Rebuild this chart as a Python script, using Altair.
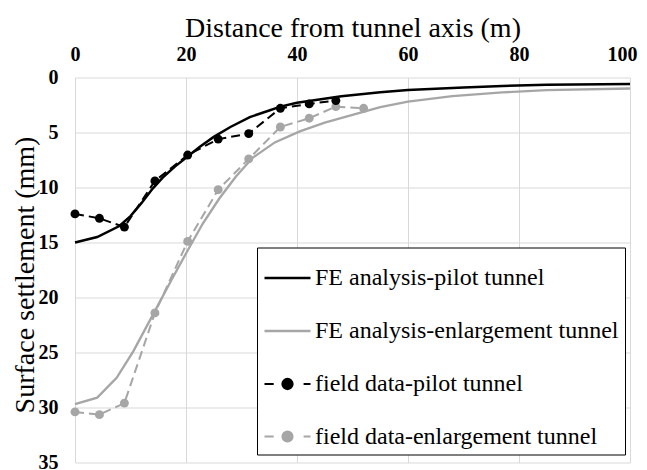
import altair as alt
import pandas as pd

# ---- data ----
fe_pilot_x = [0, 4, 8, 10, 12, 14, 16, 18, 20, 22.5, 25, 28, 31.5, 35, 37, 40, 44, 48, 55, 60, 70, 77, 85, 100]
fe_pilot_y = [15.0, 14.5, 13.5, 12.6, 11.4, 10.1, 9.0, 8.1, 7.3, 6.3, 5.4, 4.5, 3.6, 3.0, 2.65, 2.3, 2.0, 1.7, 1.35, 1.14, 0.9, 0.77, 0.65, 0.6]

fe_enl_x = [0, 4, 7.5, 10.5, 14, 17.5, 20, 23, 26, 29, 32, 36, 40.5, 45, 50, 55, 60, 68, 77, 85, 100]
fe_enl_y = [29.7, 29.1, 27.3, 24.9, 21.6, 18.3, 16.0, 13.3, 11.0, 9.0, 7.3, 5.9, 4.9, 4.1, 3.4, 2.7, 2.2, 1.7, 1.35, 1.15, 1.0]

fd_pilot_x = [0, 4.4, 8.9, 14.4, 20.3, 25.8, 31.3, 37.0, 42.2, 47.0]
fd_pilot_y = [12.4, 12.8, 13.6, 9.4, 7.05, 5.6, 5.1, 2.8, 2.4, 2.1]

fd_enl_x = [0, 4.4, 8.9, 14.4, 20.3, 25.8, 31.3, 37.0, 42.2, 47.0, 52.0]
fd_enl_y = [30.4, 30.65, 29.6, 21.4, 14.9, 10.2, 7.4, 4.5, 3.7, 2.65, 2.8]

series_names = [
    "FE analysis-pilot tunnel",
    "FE analysis-enlargement tunnel",
    "field data-pilot tunnel",
    "field data-enlargement tunnel",
]
series_colors = ["#000000", "#a6a6a6", "#000000", "#a6a6a6"]
x_ticks = [0, 20, 40, 60, 80, 100]
y_ticks = [0, 5, 10, 15, 20, 25, 30, 35]

rows = []
for name, xs, ys in zip(series_names,
                        [fe_pilot_x, fe_enl_x, fd_pilot_x, fd_enl_x],
                        [fe_pilot_y, fe_enl_y, fd_pilot_y, fd_enl_y]):
    for i, (x, y) in enumerate(zip(xs, ys)):
        rows.append({"series": name, "x": x, "y": y, "order": i})
df = pd.DataFrame(rows)

FONT = "'Liberation Serif', 'Times New Roman', 'DejaVu Serif', serif"

x_enc = alt.X("x:Q",
              scale=alt.Scale(domain=[0, 100], nice=False),
              axis=alt.Axis(orient="top", values=x_ticks, title="Distance from tunnel axis (m)",
                            grid=True, gridColor="#d9d9d9", gridWidth=1, domain=False,
                            ticks=False, tickSize=0, labelPadding=13, labelFlush=False,
                            labelOffset={"condition": {"test": "datum.value == 100", "value": -8}, "value": 0},
                            labelFont=FONT, labelFontSize=20, labelFontWeight="bold", labelColor="#000000",
                            titleFont=FONT, titleFontSize=28, titleFontWeight="normal", titleColor="#000000",
                            titleBaseline="alphabetic", titleY=-41.5))
y_enc = alt.Y("y:Q",
              scale=alt.Scale(domain=[0, 35], reverse=True, nice=False),
              axis=alt.Axis(values=y_ticks, title="Surface settlement (mm)",
                            grid=True, gridColor="#d9d9d9", gridWidth=1, domain=False,
                            ticks=False, tickSize=0, labelPadding=17, labelFlush=False,
                            labelFont=FONT, labelFontSize=20, labelFontWeight="bold", labelColor="#000000",
                            titleFont=FONT, titleFontSize=28, titleFontWeight="normal", titleColor="#000000",
                            titleBaseline="alphabetic", titleX=-42, titleY=197))

dot_path = "M-1,0H-0.6M0.7,0H1M0.22,0A0.22,0.22,0,1,1,-0.22,0A0.22,0.22,0,1,1,0.22,0Z"
shape_expr = ("indexof(['field data-pilot tunnel','field data-enlargement tunnel'], datum.value) >= 0 ? '"
              + dot_path + "' : 'M-1,0H1'")
fill_expr = ("datum.value == 'field data-pilot tunnel' ? '#000000' : "
             "datum.value == 'field data-enlargement tunnel' ? '#a6a6a6' : 'transparent'")

color_enc = alt.Color("series:N",
                      scale=alt.Scale(domain=series_names, range=series_colors),
                      legend=alt.Legend(title=None, orient="none", legendX=182, legendY=170,
                                        direction="vertical", padding=6, rowPadding=16,
                                        strokeColor="#000000", fillColor="#ffffff",
                                        symbolSize=2116, symbolStrokeWidth=2.5, labelOffset=3,
                                        symbolType=alt.ExprRef(expr=shape_expr),
                                        symbolFillColor=alt.ExprRef(expr=fill_expr),
                                        symbolOpacity=1,
                                        labelFont=FONT, labelFontSize=24, labelColor="#000000",
                                        labelLimit=600))

fe = alt.Chart(df).transform_filter(
    alt.FieldOneOfPredicate(field="series", oneOf=series_names[:2])
).mark_line().encode(
    x=x_enc, y=y_enc, order="order:Q", color=color_enc,
    strokeWidth=alt.StrokeWidth("series:N", scale=alt.Scale(domain=series_names, range=[2.5, 2, 2, 2]), legend=None),
)

fd = alt.Chart(df).transform_filter(
    alt.FieldOneOfPredicate(field="series", oneOf=series_names[2:])
).mark_line(strokeDash=[9, 5], strokeWidth=2).encode(
    x=x_enc, y=y_enc, order="order:Q", color=color_enc,
)

pts_pilot = alt.Chart(df).transform_filter(
    alt.FieldEqualPredicate(field="series", equal=series_names[2])
).mark_point(filled=True, size=80, opacity=1, color="#000000").encode(x=x_enc, y=y_enc)

pts_enl = alt.Chart(df).transform_filter(
    alt.FieldEqualPredicate(field="series", equal=series_names[3])
).mark_point(filled=True, size=80, opacity=1, color="#a6a6a6").encode(x=x_enc, y=y_enc)

chart = alt.layer(fe, fd, pts_enl, pts_pilot).properties(
    width=555, height=385,
    autosize=alt.AutoSizeParams(type="none"),
    padding={"left": 67, "top": 69.5, "right": 9, "bottom": 9},
    background="#ffffff",
).configure_view(strokeWidth=0)

chart.save("out.html", embed_options={"renderer": "svg", "actions": False})
